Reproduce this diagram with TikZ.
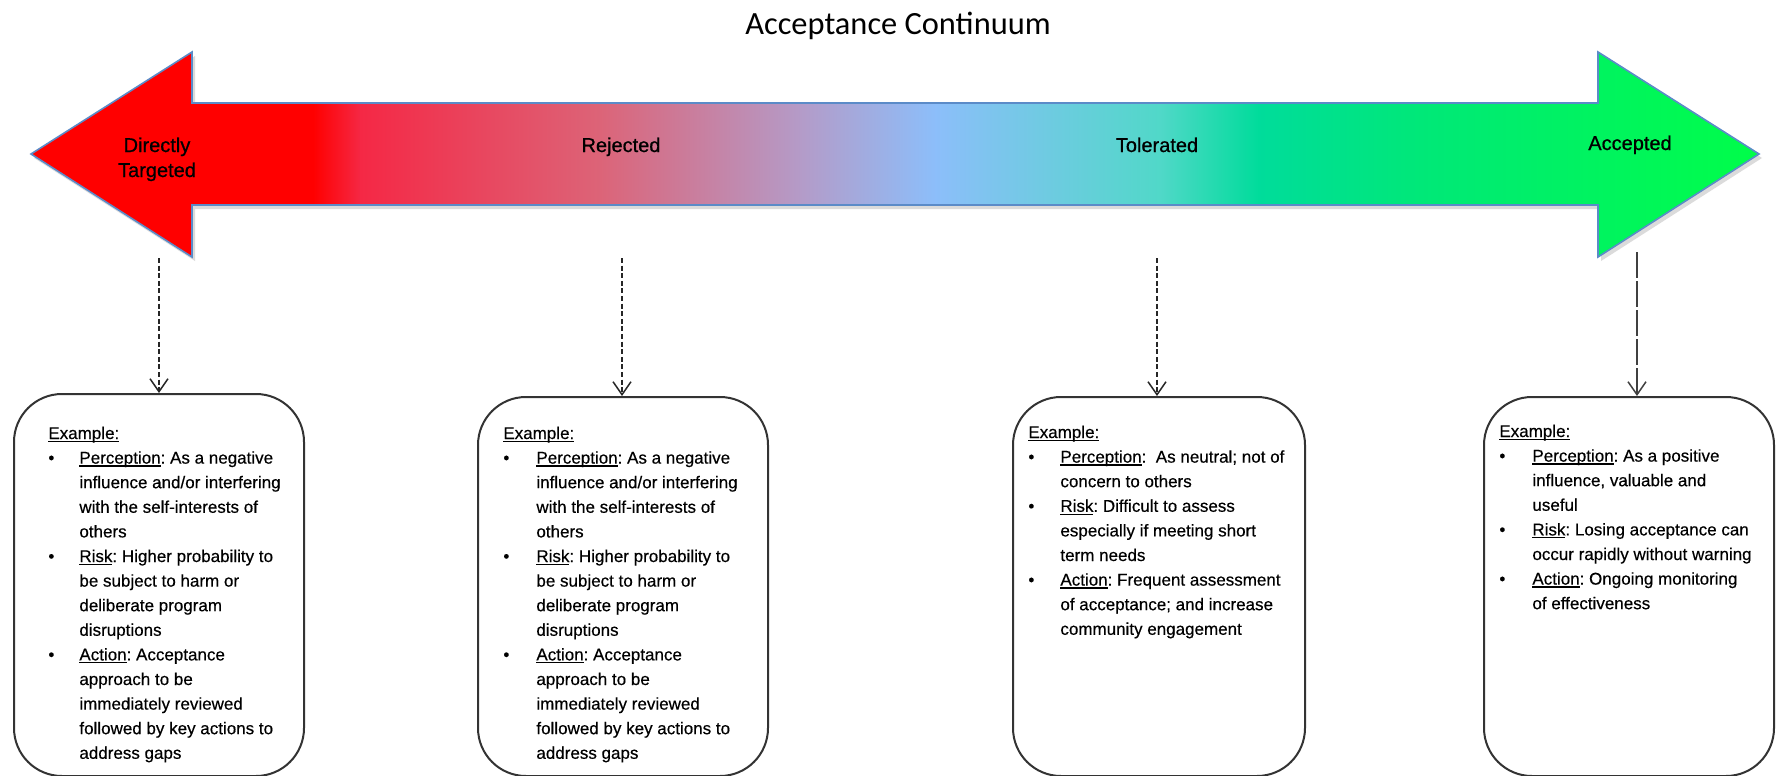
\documentclass[tikz,border=0pt]{standalone}
\usepackage{fontspec}
\setmainfont{Liberation Sans}
\newfontfamily\titlefont{Carlito}
\newfontfamily\boxfont{Liberation Sans}[FakeBold=0.4]
\newfontfamily\lblfont{Liberation Sans}[FakeBold=0.7]
\usetikzlibrary{arrows.meta}
\frenchspacing
\definecolor{gA}{HTML}{FF0000}
\definecolor{gB}{HTML}{F52845}
\definecolor{gC}{HTML}{DC6478}
\definecolor{gD}{HTML}{B49BC8}
\definecolor{gE}{HTML}{8CBEFA}
\definecolor{gF}{HTML}{50D8C8}
\definecolor{gG}{HTML}{00DC9B}
\definecolor{gH}{HTML}{00E878}
\definecolor{gI}{HTML}{00FF46}
\definecolor{arrowline}{HTML}{5B8BC8}
\newcommand\myul[1]{\setbox0\hbox{#1}\rlap{\vrule width\wd0 height -0.9pt depth 1.5pt}\box0}
\begin{document}
\begin{tikzpicture}[x=0.5pt,y=-0.5pt,
  exbox/.style={draw=black!80, line width=1pt, rounded corners=24pt, fill=white, minimum width=145pt, inner sep=0pt, anchor=north west},
  boxtext/.style={inner sep=0pt, anchor=base west, font=\boxfont\fontsize{8.5}{12.3}\selectfont\frenchspacing},
  lbl/.style={inner sep=0pt, anchor=base, font=\lblfont\fontsize{10}{12.5}\selectfont},
  conn/.style={draw=black!85, line width=0.75pt, dash pattern=on 2.5pt off 1.3pt, -{Straight Barb[length=6.5pt,width=9pt,line width=0.75pt]}},
  connlong/.style={conn, draw=black!75, dash pattern=on 13pt off 1.5pt}
]
\useasboundingbox (0,0) rectangle (1777,776);

% arrow shadow
\fill[black!14] (34,158) -- (195,56) -- (195,107) -- (1601,107) -- (1601,56) -- (1762,158) -- (1601,261) -- (1601,209) -- (195,209) -- (195,261) -- cycle;
% gradient arrow
\begin{scope}
\clip (31,154) -- (192,52) -- (192,103) -- (1598,103) -- (1598,52) -- (1759,154) -- (1598,257) -- (1598,205) -- (192,205) -- (192,257) -- cycle;
\fill[gA] (0,40) rectangle (314,270);
\shade[left color=gA, right color=gB] (313,40) rectangle (361,270);
\shade[left color=gB, right color=gC] (360,40) rectangle (601,270);
\shade[left color=gC, right color=gD] (600,40) rectangle (801,270);
\shade[left color=gD, right color=gE] (800,40) rectangle (936,270);
\shade[left color=gE, right color=gF] (935,40) rectangle (1161,270);
\shade[left color=gF, right color=gG] (1160,40) rectangle (1259,270);
\shade[left color=gG, right color=gH] (1258,40) rectangle (1421,270);
\shade[left color=gH, right color=gI] (1420,40) rectangle (1777,270);
\end{scope}
\draw[arrowline, line width=0.8pt, line join=miter] (31,154) -- (192,52) -- (192,103) -- (1598,103) -- (1598,52) -- (1759,154) -- (1598,257) -- (1598,205) -- (192,205) -- (192,257) -- cycle;

% title
\node[inner sep=0pt, anchor=base, font=\titlefont\fontsize{16.2}{19}\selectfont] (title) at (898,34) {Acceptance Continuum};

% labels
\node[lbl] (l1) at (157,152) {\begin{tabular}[t]{@{}c@{}}Directly\\Targeted\end{tabular}};
\node[lbl] (l2) at (621,152) {Rejected};
\node[lbl] (l3) at (1157,152) {Tolerated};
\node[lbl] (l4) at (1630,150) {Accepted};

% boxes
\node[exbox, minimum height=191pt] (b1) at (13,393) {};
\node[exbox, minimum height=189.5pt] (b2) at (477,396) {};
\node[exbox, minimum height=189.5pt, minimum width=146pt] (b3) at (1012,396) {};
\node[exbox, minimum height=189.5pt] (b4) at (1483,396) {};

% connectors
\coordinate (d1) at (159,258);
\coordinate (d2) at (622,258);
\coordinate (d3) at (1157,258);
\coordinate (d4) at (1637,252);
\draw[conn] (d1) -- (d1 |- b1.north);
\draw[conn] (d2) -- (d2 |- b2.north);
\draw[conn] (d3) -- (d3 |- b3.north);
\draw[connlong] (d4) -- (d4 |- b4.north);

% box texts
\node[boxtext] (t1) at (48,439) {\begin{tabular}[t]{@{}p{15.5pt}@{}l@{}}
\multicolumn{2}{@{}l@{}}{\myul{Example:}}\\
\textbullet & \myul{Perception}: As a negative\\
 & influence and/or interfering\\
 & with the self-interests of\\
 & others\\
\textbullet & \myul{Risk}: Higher probability to\\
 & be subject to harm or\\
 & deliberate program\\
 & disruptions\\
\textbullet & \myul{Action}: Acceptance\\
 & approach to be\\
 & immediately reviewed\\
 & followed by key actions to\\
 & address gaps
\end{tabular}};

\node[boxtext] (t2) at (503,439) {\begin{tabular}[t]{@{}p{16.5pt}@{}l@{}}
\multicolumn{2}{@{}l@{}}{\myul{Example:}}\\
\textbullet & \myul{Perception}: As a negative\\
 & influence and/or interfering\\
 & with the self-interests of\\
 & others\\
\textbullet & \myul{Risk}: Higher probability to\\
 & be subject to harm or\\
 & deliberate program\\
 & disruptions\\
\textbullet & \myul{Action}: Acceptance\\
 & approach to be\\
 & immediately reviewed\\
 & followed by key actions to\\
 & address gaps
\end{tabular}};

\node[boxtext] (t3) at (1028,438) {\begin{tabular}[t]{@{}p{16pt}@{}l@{}}
\multicolumn{2}{@{}l@{}}{\myul{Example:}}\\
\textbullet & \myul{Perception}:\ \ As neutral; not of\\
 & concern to others\\
\textbullet & \myul{Risk}: Difficult to assess\\
 & especially if meeting short\\
 & term needs\\
\textbullet & \myul{Action}: Frequent assessment\\
 & of acceptance; and increase\\
 & community engagement
\end{tabular}};

\node[boxtext] (t4) at (1499,437) {\begin{tabular}[t]{@{}p{16.5pt}@{}l@{}}
\multicolumn{2}{@{}l@{}}{\myul{Example:}}\\
\textbullet & \myul{Perception}: As a positive\\
 & influence, valuable and\\
 & useful\\
\textbullet & \myul{Risk}: Losing acceptance can\\
 & occur rapidly without warning\\
\textbullet & \myul{Action}: Ongoing monitoring\\
 & of effectiveness
\end{tabular}};
\end{tikzpicture}
\end{document}
